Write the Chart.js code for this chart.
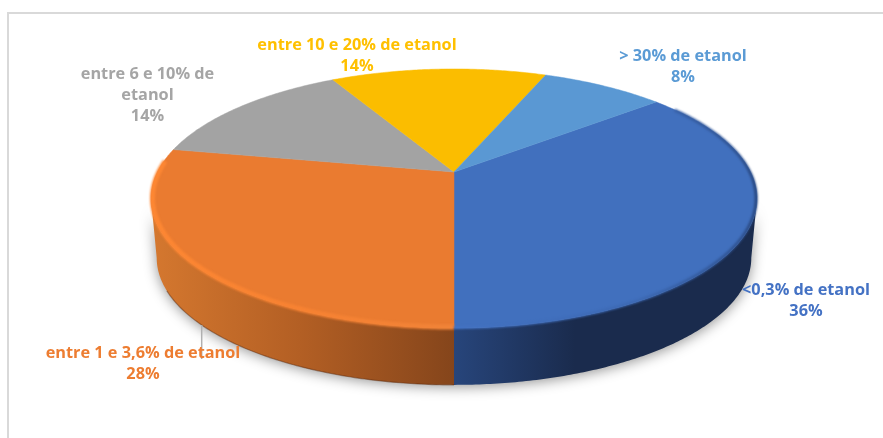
<!DOCTYPE html>
<html>
<head>
<meta charset="utf-8">
<style>
  html, body { margin: 0; padding: 0; background: #fff; }
  #wrap { position: relative; width: 883px; height: 438px; overflow: hidden; }
  #frame { position: absolute; left: 7px; top: 12px; width: 900px; height: 500px; border: 2px solid #d9d9d9; }
  canvas { position: absolute; left: 0; top: 0; }
</style>
</head>
<body>
<div id="wrap">
  <div id="frame"></div>
  <canvas id="pie" width="883" height="438"></canvas>
</div>
<script src="https://cdn.jsdelivr.net/npm/chart.js@4"></script>
<script>
// pie data, clockwise from the first slice
const categories = ['<0,3% de etanol', 'entre 1 e 3,6% de etanol', 'entre 6 e 10% de etanol', 'entre 10 e 20% de etanol', '> 30% de etanol'];
const shares = [36, 28, 14, 14, 8];
const faceColors = ['#4170be', '#ea7b30', '#a3a3a3', '#fbbd00', '#5a98d3'];
const labelColors = ['#4472c4', '#ed7d31', '#a5a5a5', '#ffc000', '#5b9bd5'];

// label placement: lines of the name, centre x, y of the first line
const labelLayout = [
  { lines: ['<0,3% de etanol'], x: 806, y: 290.5 },
  { lines: ['entre 1 e 3,6% de etanol'], x: 143, y: 353.5 },
  { lines: ['entre 6 e 10% de', 'etanol'], x: 147.5, y: 74.5 },
  { lines: ['entre 10 e 20% de etanol'], x: 357, y: 45.5 },
  { lines: ['> 30% de etanol'], x: 683, y: 56.5 }
];

// perspective of the disc: apex position, radii and foreshortening
const TOP = { cx: 454, cy: 172, rx: 296.6, ry: 124.1 };
const BOTTOM = { cx: 454, cy: 232, rx: 291, ry: 121.6 };
const TILT = 0.2046;

// a = canvas angle as chart.js keeps it (0 = 3 o'clock, clockwise)
function project(disc, a, r = 1) {
  const x = Math.cos(a) * r;
  const y = Math.sin(a) * r;
  const w = 1 - TILT * y;
  return [disc.cx + disc.rx * x / w, disc.cy + disc.ry * y / w];
}

function traceRim(ctx, disc, from, to, r = 1, move = true) {
  const steps = Math.max(2, Math.ceil(Math.abs(to - from) / 0.01));
  for (let i = 0; i <= steps; i++) {
    const p = project(disc, from + (to - from) * i / steps, r);
    if (i === 0 && move) ctx.moveTo(p[0], p[1]);
    else ctx.lineTo(p[0], p[1]);
  }
}

function sideGradient(ctx, stops) {
  const g = ctx.createLinearGradient(150, 0, 760, 0);
  stops.forEach(s => g.addColorStop((s[0] - 150) / 610, s[1]));
  return g;
}

function drawSide(ctx, from, to, fill) {
  ctx.beginPath();
  traceRim(ctx, TOP, from, to);
  traceRim(ctx, BOTTOM, to, from, 1, false);
  ctx.closePath();
  ctx.fillStyle = fill;
  ctx.fill();
}

// the widest points of the projected rim sit just below 3 and 9 o'clock
const SILHOUETTE = Math.asin(TILT);
const RIGHT_LIMIT = SILHOUETTE;
const FRONT = Math.PI / 2;
const LEFT_LIMIT = Math.PI - SILHOUETTE;

const tiltedPie = {
  id: 'tiltedPie',
  beforeDatasetDraw(chart) {
    const ctx = chart.ctx;
    const arcs = chart.getDatasetMeta(0).data;

    // soft shadow on the page; the caster itself is drawn off canvas
    ctx.save();
    ctx.translate(-2000, 0);
    ctx.shadowColor = 'rgba(0,0,0,0.42)';
    ctx.shadowBlur = 13;
    ctx.shadowOffsetX = 2000;
    ctx.shadowOffsetY = 2;
    ctx.fillStyle = '#000';
    ctx.beginPath();
    traceRim(ctx, TOP, RIGHT_LIMIT, LEFT_LIMIT);
    traceRim(ctx, BOTTOM, LEFT_LIMIT, RIGHT_LIMIT, 1, false);
    ctx.closePath();
    ctx.fill();
    ctx.restore();

    // wall
    drawSide(ctx, RIGHT_LIMIT, FRONT, sideGradient(ctx, [[454, '#27457b'], [575, '#1a2b4d'], [760, '#1a2b4d']]));
    drawSide(ctx, FRONT, LEFT_LIMIT, sideGradient(ctx, [[150, '#d5782f'], [300, '#b35f24'], [454, '#85451b']]));

    // dark line along the foot of the wall
    ctx.save();
    ctx.lineWidth = 1.2;
    ctx.strokeStyle = 'rgba(90,40,10,0.45)';
    ctx.beginPath();
    traceRim(ctx, BOTTOM, FRONT, LEFT_LIMIT - 0.25);
    ctx.stroke();
    ctx.restore();

    // slices on top, angles come from the arc elements
    arcs.forEach((arc, i) => {
      const { startAngle, endAngle } = arc.getProps(['startAngle', 'endAngle'], true);
      ctx.beginPath();
      ctx.moveTo(TOP.cx, TOP.cy);
      traceRim(ctx, TOP, startAngle, endAngle, 1, false);
      ctx.closePath();
      ctx.fillStyle = faceColors[i];
      ctx.strokeStyle = faceColors[i];
      ctx.lineWidth = 0.5;
      ctx.fill();
      ctx.stroke();
    });

    // bevel along the front rim
    ctx.save();
    ctx.filter = 'blur(1.2px)';
    ctx.lineCap = 'butt';
    const orange = arcs[1];
    ctx.lineWidth = 5;
    ctx.strokeStyle = sideGradient(ctx, [[150, '#fd8733'], [300, '#f78232'], [454, '#f08338']]);
    ctx.beginPath();
    traceRim(ctx, TOP, FRONT, orange.endAngle - 0.1, 0.995);
    ctx.stroke();
    const blue = arcs[0];
    ctx.strokeStyle = sideGradient(ctx, [[454, '#4372c2'], [640, '#3c68b2'], [740, '#2f5290'], [760, '#27457b']]);
    ctx.lineWidth = 3;
    ctx.beginPath();
    traceRim(ctx, TOP, FRONT, blue.startAngle + 0.1, 0.997);
    ctx.stroke();
    ctx.restore();

    return false;
  },
  afterDatasetsDraw(chart) {
    const ctx = chart.ctx;

    // leader line of the orange slice
    ctx.strokeStyle = '#b0b0b0';
    ctx.lineWidth = 1.5;
    ctx.beginPath();
    ctx.moveTo(201.7, 325);
    ctx.lineTo(201.7, 359);
    ctx.stroke();

    // slice labels: name lines and share
    ctx.font = 'bold 16.3px "Open Sans"';
    ctx.textAlign = 'center';
    ctx.textBaseline = 'middle';
    labelLayout.forEach((label, i) => {
      ctx.fillStyle = labelColors[i];
      const lines = label.lines.concat(shares[i] + '%');
      lines.forEach((line, n) => ctx.fillText(line, label.x, label.y + n * 21));
    });
  }
};

new Chart(document.getElementById('pie'), {
  type: 'pie',
  data: {
    labels: categories,
    datasets: [{ data: shares, backgroundColor: faceColors, borderWidth: 0 }]
  },
  options: {
    responsive: false,
    animation: false,
    rotation: 50.4,
    plugins: { legend: { display: false }, tooltip: { enabled: false } }
  },
  plugins: [tiltedPie]
});
</script>
</body>
</html>
